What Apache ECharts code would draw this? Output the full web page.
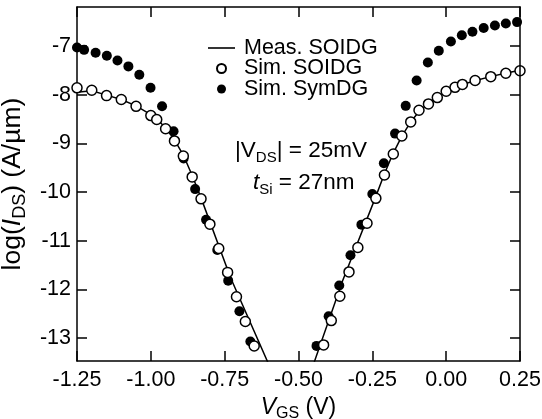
<!DOCTYPE html>
<html>
<head>
<meta charset="utf-8">
<script src="https://cdn.jsdelivr.net/npm/echarts@6/dist/echarts.min.js"></script>
<style>
html, body { margin: 0; padding: 0; background: #fff; }
.box { position: absolute; left: 0; top: 0; width: 542px; height: 419px; }
#frame { pointer-events: none; }
</style>
</head>
<body>
<div id="chart" class="box"></div>
<div id="frame" class="box"></div>
<script>
// measured SOI DG (line), two branches
const measLeftX = [-1.25, -1.20, -1.15, -1.10, -1.05, -1.00, -0.98, -0.95, -0.92, -0.89, -0.86, -0.83, -0.73, -0.60];
const measLeftY = [-7.95, -7.92, -8.01, -8.10, -8.23, -8.41, -8.50, -8.68, -8.93, -9.24, -9.66, -10.12, -11.76, -13.55];
const measRightX = [-0.45, -0.35, -0.24, -0.21, -0.18, -0.15, -0.12, -0.09, -0.06, -0.03, 0.00, 0.05, 0.10, 0.15, 0.20, 0.25];
const measRightY = [-13.55, -11.81, -10.12, -9.64, -9.21, -8.85, -8.56, -8.33, -8.18, -8.05, -7.94, -7.80, -7.71, -7.63, -7.56, -7.50];

// simulated SOI DG (open circles)
const simSoiX = [-1.25, -1.20, -1.15, -1.10, -1.05, -1.00, -0.98, -0.95, -0.92, -0.89, -0.86, -0.83, -0.80, -0.77, -0.74, -0.71, -0.68, -0.65,
  -0.415, -0.389, -0.36, -0.329, -0.299, -0.268, -0.238, -0.209, -0.179, -0.15, -0.12, -0.092, -0.06, -0.03, 0.00, 0.03, 0.055, 0.098, 0.151, 0.202, 0.25];
const simSoiY = [-7.86, -7.91, -8.02, -8.10, -8.24, -8.43, -8.51, -8.70, -8.95, -9.26, -9.69, -10.14, -10.66, -11.16, -11.65, -12.15, -12.66, -13.16,
  -13.14, -12.64, -12.14, -11.64, -11.14, -10.64, -10.13, -9.65, -9.22, -8.85, -8.56, -8.32, -8.19, -8.06, -7.93, -7.85, -7.79, -7.71, -7.63, -7.56, -7.51];

// simulated symmetric DG (filled circles)
const simSymX = [-1.25, -1.226, -1.187, -1.149, -1.113, -1.076, -1.039, -1.001, -0.962, -0.923, -0.889, -0.850, -0.813, -0.775, -0.738, -0.700, -0.663,
  -0.439, -0.398, -0.362, -0.324, -0.287, -0.250, -0.211, -0.173, -0.137, -0.100, -0.062, -0.025, 0.016, 0.053, 0.089, 0.127, 0.165, 0.202, 0.240];
const simSymY = [-7.03, -7.08, -7.14, -7.20, -7.30, -7.42, -7.59, -7.86, -8.24, -8.75, -9.31, -9.94, -10.57, -11.19, -11.82, -12.45, -13.07,
  -13.16, -12.55, -11.92, -11.30, -10.67, -10.04, -9.41, -8.80, -8.23, -7.71, -7.34, -7.10, -6.91, -6.78, -6.71, -6.63, -6.58, -6.54, -6.51];

const yTicks = [-13, -12, -11, -10, -9, -8, -7];
const xMin = -1.25, xMax = 0.25, xStep = 0.25;
const yMin = -13.47, yMax = -6.2;

const F = 'Liberation Sans, Arial, sans-serif';
const gridBox = { left: 77, right: 22, top: 7, bottom: 58 };

// rich styles for axis titles and notes (n = normal, i = italic, s = subscript)
function richSet(size, lh) {
  return {
    n: { fontSize: size, fontFamily: F, lineHeight: lh, color: '#000' },
    i: { fontSize: size, fontFamily: F, fontStyle: 'italic', lineHeight: lh, color: '#000' },
    s: { fontSize: Math.round(size * 0.68), fontFamily: F, lineHeight: Math.round(size * 0.68), verticalAlign: 'bottom', color: '#000' }
  };
}

const pair = (xs, ys) => xs.map((x, i) => [x, ys[i]]);
const measData = pair(measLeftX, measLeftY).concat([['-', '-']], pair(measRightX, measRightY));

function axisLine() {
  return { show: true, onZero: false, lineStyle: { color: '#000', width: 1.5 } };
}
function axisTick(custom) {
  let t = { show: true, inside: true, length: 10, lineStyle: { color: '#000', width: 1.5 } };
  if (custom) t.customValues = custom;
  return t;
}

// main chart: bottom/left axes, legend, notes, data
let chart = echarts.init(document.getElementById('chart'));
chart.setOption({
  animation: false,
  backgroundColor: '#fff',
  textStyle: { fontFamily: F },
  grid: Object.assign({ outerBoundsMode: 'none' }, gridBox),
  legend: {
    data: [
      { name: 'Meas. SOIDG', icon: 'path://M0,0H27V1.6H0Z', itemStyle: { color: '#000' } },
      'Sim. SOIDG',
      'Sim. SymDG'
    ],
    orient: 'vertical',
    left: 208,
    top: 37,
    itemWidth: 27,
    itemHeight: 9,
    itemGap: -1.5,
    padding: 0,
    textStyle: { fontSize: 21.5, color: '#000', fontFamily: F, padding: [0, 0, 0, 4] }
  },
  xAxis: {
    type: 'value', min: xMin, max: xMax, interval: xStep, position: 'bottom',
    axisLine: axisLine(), axisTick: axisTick(), splitLine: { show: false },
    axisLabel: { color: '#000', fontSize: 21.5, margin: 8, formatter: v => v.toFixed(2) },
    name: '{i|V}{s|GS}{n| (V)}', nameLocation: 'middle', nameGap: 25,
    nameTextStyle: { rich: richSet(23, 28) }
  },
  yAxis: {
    type: 'value', min: yMin, max: yMax, position: 'left',
    axisLine: axisLine(), splitLine: { show: false },
    axisTick: axisTick(yTicks),
    axisLabel: { color: '#000', fontSize: 21.5, margin: 6, customValues: yTicks },
    name: '{n|log(}{i|I}{s|DS}{n|) (A/µm)}', nameLocation: 'middle', nameGap: 40,
    nameTextStyle: { rich: richSet(26.5, 32) }
  },
  graphic: [
    {
      type: 'text', x: 235, y: 151,
      style: { text: '{n||V}{s|DS}{n|| = 25mV}', rich: richSet(22.5, 28), verticalAlign: 'middle' }
    },
    {
      type: 'text', x: 253, y: 183,
      style: { text: '{i|t}{s|Si}{n| = 27nm}', rich: richSet(22.5, 28), verticalAlign: 'middle' }
    }
  ],
  series: [
    {
      name: 'Meas. SOIDG', type: 'line', data: measData,
      symbol: 'none', connectNulls: false,
      lineStyle: { color: '#000', width: 1.5 }, itemStyle: { color: '#000' }, z: 1
    },
    {
      name: 'Sim. SymDG', type: 'scatter', data: pair(simSymX, simSymY),
      symbol: 'circle', symbolSize: 10, itemStyle: { color: '#000', opacity: 1 }, z: 2
    },
    {
      name: 'Sim. SOIDG', type: 'scatter', data: pair(simSoiX, simSoiY),
      symbol: 'circle', symbolSize: 10,
      itemStyle: { color: '#fff', borderColor: '#000', borderWidth: 1.5, opacity: 1 }, z: 3
    }
  ]
});

// overlay: mirrored top/right axes (frame with inside ticks)
let frame = echarts.init(document.getElementById('frame'));
frame.setOption({
  animation: false,
  grid: Object.assign({}, gridBox),
  xAxis: {
    type: 'value', min: xMin, max: xMax, interval: xStep, position: 'top',
    axisLine: axisLine(), axisTick: axisTick(),
    splitLine: { show: true, lineStyle: { color: 'rgba(0,0,0,0)' } },
    axisLabel: { show: false }
  },
  yAxis: {
    type: 'value', min: yMin, max: yMax, position: 'right',
    axisLine: axisLine(), axisTick: axisTick(yTicks),
    splitLine: { show: true, lineStyle: { color: 'rgba(0,0,0,0)' } },
    axisLabel: { show: false, customValues: yTicks }
  },
  series: [{ type: 'scatter', data: [] }]
});
</script>
</body>
</html>
